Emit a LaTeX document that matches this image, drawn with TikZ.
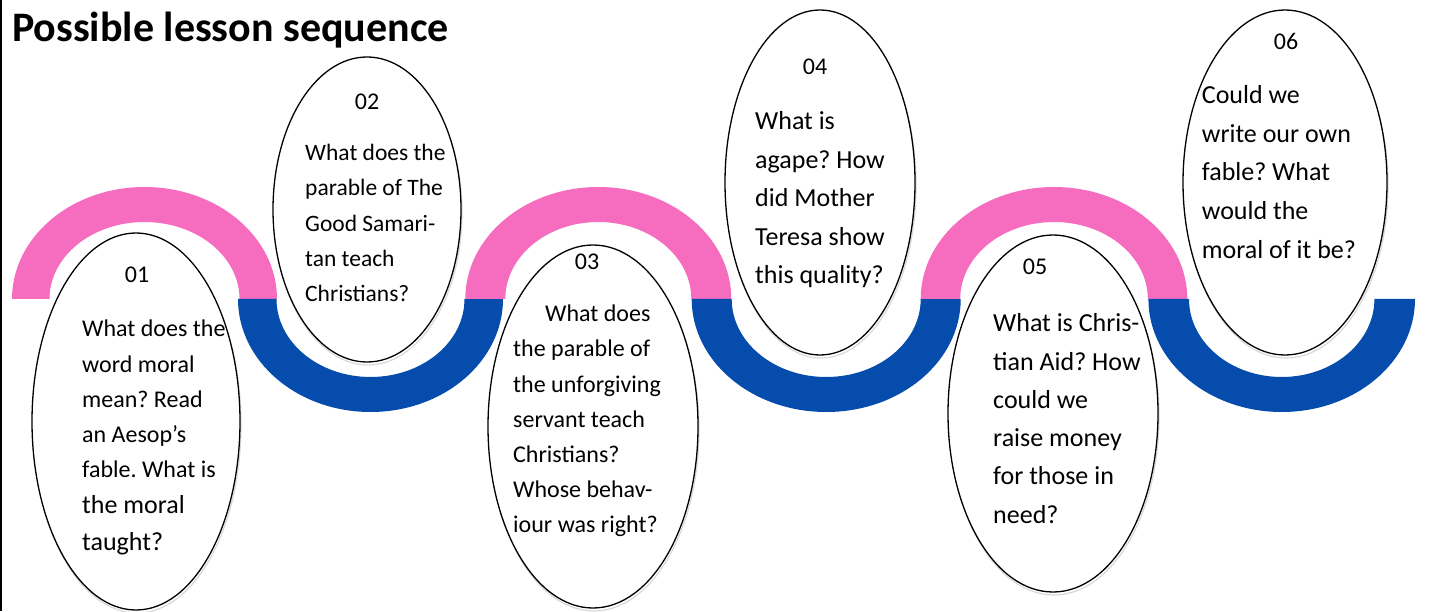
\documentclass[tikz,border=0pt]{standalone}
\usepackage{fontspec}
\setmainfont{Carlito}
\frenchspacing
\usetikzlibrary{shapes.geometric,shadows}
\definecolor{pinkband}{HTML}{F66CBF}
\definecolor{blueband}{HTML}{054CAD}
\newcommand\bandup[3]{\fill[pinkband] ({#1-#2},312) arc[start angle=180,end angle=0,x radius=#2pt,y radius=112pt] -- ({#1+#3},312) arc[start angle=0,end angle=180,x radius=#3pt,y radius=77pt] -- cycle;}
\newcommand\banddown[3]{\fill[blueband] ({#1-#2},312) arc[start angle=180,end angle=360,x radius=#2pt,y radius=113pt] -- ({#1+#3},312) arc[start angle=360,end angle=180,x radius=#3pt,y radius=78pt] -- cycle;}
\tikzset{
  bubble/.style={ellipse, draw=black, line width=1.3pt, fill=white, inner sep=0pt,
    general shadow={shadow scale=1.0, shadow xshift=1pt, shadow yshift=-3pt, fill=white, draw=gray!30, line width=1.2pt}},
  num/.style={anchor=base, inner sep=0pt, font=\fontsize{24}{29}\selectfont},
  qtext/.style={anchor=base west, inner sep=0pt},
  title/.style={anchor=base west, inner sep=0pt, font=\fontsize{42}{50}\bfseries\selectfont}
}
\begin{document}
\begin{tikzpicture}[x=1pt,y=1pt]
\useasboundingbox (0,0) rectangle (1447,611);
\fill[white] (0,0) rectangle (1447,611);
\draw[line width=1.5pt] (1,0) -- (1,611);
\node[title] (title) at (12,569.3) {Possible lesson sequence};
% wave
\bandup{144.5}{132.5}{95}
\banddown{370.5}{132.5}{94}
\bandup{598.3}{133}{93}
\banddown{826.2}{134.5}{94.5}
\bandup{1054}{133.3}{93.8}
\banddown{1281.7}{133.3}{92.7}
% bubbles
\node[bubble, minimum width=208pt, minimum height=377pt] (e1) at (136,189.5) {};
\node[bubble, minimum width=188pt, minimum height=305pt] (e2) at (367,401.5) {};
\node[bubble, minimum width=210pt, minimum height=363pt] (e3) at (593,184.5) {};
\node[bubble, minimum width=190pt, minimum height=345pt] (e4) at (820,428.5) {};
\node[bubble, minimum width=210pt, minimum height=357pt] (e5) at (1053,197.5) {};
\node[bubble, minimum width=204pt, minimum height=345pt] (e6) at (1285,428.5) {};
% numbers
\node[num] (n1) at (137,328) {01};
\node[num] (n2) at (367,501) {02};
\node[num] (n3) at (587,341) {03};
\node[num] (n4) at (815,536) {04};
\node[num] (n5) at (1035,336) {05};
\node[num] (n6) at (1286,561) {06};
% texts
\node[qtext] (q1) at (82,274) {\parbox[t]{250pt}{\fontsize{24}{35}\selectfont
What does the\par word moral\par mean? Read\par an Aesop’s\par fable. What is\par
\fontsize{26}{36.5}\selectfont the moral\par taught?}};
\node[qtext] (q2) at (305,450.3) {\parbox[t]{250pt}{\fontsize{23.5}{35.25}\selectfont
What does the\par parable of The\par Good Samari-\par tan teach\par Christians?}};
\node[qtext] (q3) at (513,289.3) {\parbox[t]{250pt}{\fontsize{24}{35.2}\selectfont
\hspace*{32pt}What does\par the parable of\par the unforgiving\par servant teach\par Christians?\par Whose behav-\par iour was right?}};
\node[qtext] (q4) at (755,481) {\parbox[t]{250pt}{\fontsize{26}{38.5}\selectfont
What is\par agape? How\par did Mother\par Teresa show\par this quality?}};
\node[qtext] (q5) at (993,279.3) {\parbox[t]{250pt}{\fontsize{26}{38.3}\selectfont
What is Chris-\par tian Aid? How\par could we\par raise money\par for those in\par need?}};
\node[qtext] (q6) at (1201.7,507.7) {\parbox[t]{250pt}{\fontsize{26}{38.75}\selectfont
Could we\par write our own\par fable? What\par would the\par moral of it be?}};
\end{tikzpicture}
\end{document}
